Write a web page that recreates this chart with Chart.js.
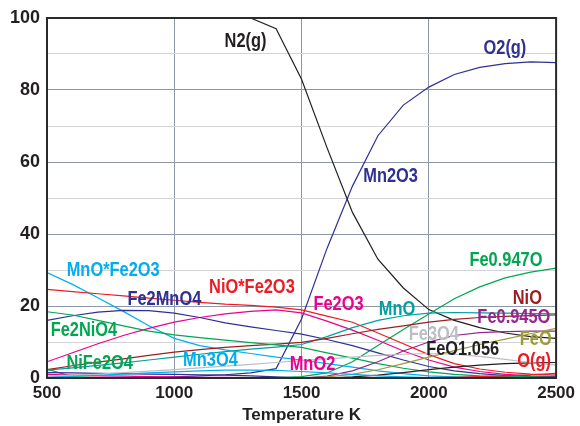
<!DOCTYPE html>
<html>
<head>
<meta charset="utf-8">
<script src="https://cdn.jsdelivr.net/npm/chart.js@4.4.1/dist/chart.umd.min.js"></script>
<style>
  html, body { margin: 0; padding: 0; background: #ffffff; }
  #wrap { width: 580px; height: 426px; }
</style>
</head>
<body>
<div id="wrap"><canvas id="c" width="580" height="426"></canvas></div>
<script>
// ---- data (temperature K vs amount %) ----
const temps = [500,600,700,800,900,1000,1100,1200,1300,1400,1500,1600,1700,1800,1900,2000,2100,2200,2300,2400,2500];

const N2g      = [100,100,100,100,100,100,100,100,100,97,83,64,46,33,25,19,16,14,12.5,11.5,11];
const O2g      = [0,0,0,0,0,0.3,0.6,0.9,1.4,2.6,16.4,36,53.3,67.3,75.8,80.8,84.3,86.3,87.3,87.8,87.6];
const Mn2O3    = [1.5,1.4,1.3,1.2,1.1,1,0.9,0.8,0.6,0.3,0,0,0,0,0,0,0,0,0,0,0];
const MnOFe2O3 = [29.3,26,22.3,18.5,14.5,11,9,7.8,6.8,5.8,5,4,3,2,1.2,0.6,0.3,0.15,0.1,0.1,0.1];
const NiOFe2O3 = [24.6,24,23.4,22.8,22.2,21.6,21,20.5,20.2,19.7,18.9,17.2,15.5,12.5,9.5,6.5,4,2.5,1.6,1.1,0.8];
const Fe2MnO4  = [16,17.3,18.3,18.8,18.7,18,16.8,15.3,14.2,13.2,12.2,10.7,9,7,5,3.2,2,1.2,0.7,0.4,0.3];
const Fe2NiO4  = [18.4,17.5,16,14.5,13,12,11.2,10.5,9.8,9.2,8.5,7,5.5,4,2.7,1.7,1,0.6,0.4,0.3,0.2];
const NiFe2O4  = [2.5,0.4,0.1,0,0,0,0,0,0,0,0,0,0,0,0,0,0,0,0,0,0];
const Mn3O4    = [0.3,0.5,0.8,1.1,1.4,1.7,2,2.2,2.2,2.1,1.8,1.4,1,0.6,0.3,0.1,0,0,0,0,0];
const MnO2     = [1,0.8,0.6,0.5,0.4,0.3,0.2,0.2,0.1,0.1,0,0,0,0,0,0,0,0,0,0,0];
const Fe2O3    = [4.5,7,9.5,11.8,13.8,15.5,16.8,17.8,18.5,18.9,18.1,15.8,13.3,10.5,7.5,5,3,1.8,1,0.6,0.4];
const MnO      = [2.2,2.8,3.5,4.2,5,5.8,6.6,7.3,8,8.6,9.3,11.5,14,16,17.3,18,18.2,18.1,18,17.9,17.8];
const Fe0947O  = [0,0,0,0,0,0,0,0,0,0.1,0.4,1.4,4.5,9,13.5,17.8,22,25.3,27.8,29.4,30.5];
const NiO      = [2.3,3.4,4.4,5.3,6.3,7.2,7.9,8.5,9,9.4,9.9,11,12.3,13.5,14.5,15.5,16.3,16.8,17.1,17.3,17.5];
const Fe0945O  = [0,0,0,0,0,0,0,0,0,0,0,0.5,2,4.5,7.5,10,11.8,12.6,12.9,13,13];
const Fe3O4    = [0.5,0.8,1.1,1.5,1.9,2.3,2.8,3.3,3.8,4.3,4.8,5.3,5.8,6.3,6.6,6.8,6.6,6,5.2,4.3,3.6];
const FeO      = [0,0,0,0,0,0,0,0,0,0,0,0.3,1,2.3,4,5.8,7.6,9.3,10.8,12.3,13.8];
const FeO1056  = [0,0,0,0,0,0,0,0,0,0,0,0,0.3,0.8,1.5,2.3,3,3.6,4,4.2,4.3];
const Og       = [0,0,0,0,0,0,0,0,0,0,0,0,0,0,0,0.1,0.2,0.4,0.6,0.9,1.3];

const xTicks = [500,1000,1500,2000,2500];
const yTicks = [0,20,40,60,80,100];

// ---- styles ----
const C = {
  black:'#231f20', navy:'#2e3192', cyan:'#00aeef', red:'#ed1c24', magenta:'#ec008c',
  green:'#00a651', teal:'#00a0a0', brown:'#9e1f23', purple:'#92278f', gray:'#bcbec4', olive:'#9c9a3a'
};

const seriesList = [
  ['Fe3O4', Fe3O4, C.gray],
  ['Mn3O4', Mn3O4, C.cyan],
  ['MnO2', MnO2, C.magenta],
  ['Mn2O3', Mn2O3, C.navy],
  ['NiFe2O4', NiFe2O4, C.green],
  ['FeO1.056', FeO1056, C.black],
  ['O(g)', Og, C.red],
  ['FeO', FeO, C.olive],
  ['Fe0.945O', Fe0945O, C.purple],
  ['Fe2NiO4', Fe2NiO4, C.green],
  ['NiO', NiO, C.brown],
  ['MnO', MnO, C.teal],
  ['Fe2MnO4', Fe2MnO4, C.navy],
  ['Fe2O3', Fe2O3, C.magenta],
  ['NiO*Fe2O3', NiOFe2O3, C.red],
  ['MnO*Fe2O3', MnOFe2O3, C.cyan],
  ['Fe0.947O', Fe0947O, C.green],
  ['N2(g)', N2g, C.black],
  ['O2(g)', O2g, C.navy]
];

// label annotations: [text, T, value, colour]
const annotations = [
  ['N2(g)', 1280, 93.5, C.black],
  ['O2(g)', 2299, 91.6, C.navy],
  ['Mn2O3', 1850, 55.9, C.navy],
  ['MnO*Fe2O3', 760, 30, C.cyan],
  ['NiO*Fe2O3', 1305, 25.1, C.red],
  ['Fe2MnO4', 961, 21.8, C.navy],
  ['Fe2NiO4', 645, 13.2, C.green],
  ['NiFe2O4', 707, 3.9, C.green],
  ['Mn3O4', 1142, 4.9, C.cyan],
  ['MnO2', 1543, 3.75, C.magenta],
  ['Fe2O3', 1645, 20.4, C.magenta],
  ['MnO', 1875, 18.9, C.teal],
  ['Fe0.947O', 2303, 32.6, C.green],
  ['NiO', 2387, 22, C.brown],
  ['Fe0.945O', 2334, 16.8, C.purple],
  ['Fe3O4', 2020, 12.2, C.gray],
  ['FeO', 2420, 10.7, C.olive],
  ['FeO1.056', 2133, 7.9, C.black],
  ['O(g)', 2414, 4.6, C.red]
];

const FONT = "'Liberation Sans', Arial, Helvetica, sans-serif";

const datasets = seriesList.map(([name, vals, col]) => ({
  label: name,
  data: temps.map((t, i) => ({x: t, y: vals[i]})),
  borderColor: col,
  backgroundColor: col,
  borderWidth: 1.2,
  pointRadius: 0,
  tension: 0,
  fill: false
}));

const labelPlugin = {
  id: 'labels',
  afterDatasetsDraw(chart) {
    const {ctx, chartArea, scales} = chart;
    ctx.save();
    // frame
    ctx.strokeStyle = '#2a2a2a';
    ctx.lineWidth = 2;
    ctx.strokeRect(chartArea.left, chartArea.top, chartArea.right - chartArea.left, chartArea.bottom - chartArea.top);
    // annotations (condensed look)
    ctx.font = "bold 20px " + FONT;
    ctx.textAlign = 'center';
    ctx.textBaseline = 'middle';
    annotations.forEach(([txt, t, v, col]) => {
      ctx.save();
      ctx.translate(scales.x.getPixelForValue(t), scales.y.getPixelForValue(v));
      ctx.scale(0.82, 1);
      ctx.fillStyle = col;
      ctx.fillText(txt, 0, 0);
      ctx.restore();
    });
    ctx.restore();
  }
};

new Chart(document.getElementById('c'), {
  type: 'line',
  data: { datasets },
  options: {
    responsive: false,
    animation: false,
    layout: { padding: { top: 18, right: 21, left: 0, bottom: 0 } },
    plugins: { legend: { display: false }, tooltip: { enabled: false } },
    scales: {
      x: {
        type: 'linear', min: xTicks[0], max: xTicks[xTicks.length - 1],
        afterBuildTicks(s) { s.ticks = xTicks.map(v => ({value: v})); },
        ticks: { padding: 5, color: C.black, maxRotation: 0, autoSkip: false,
                 callback: v => String(v),
                 font: { family: FONT, size: 17, weight: 'bold' } },
        grid: { color: '#8e97a5', lineWidth: 1, drawTicks: false },
        border: { display: false },
        title: { display: true, text: 'Temperature K', color: C.black,
                 font: { family: FONT, size: 17, weight: 'bold' }, padding: { top: 0, bottom: 0 } },
        afterFit(s) { s.height = 48; }
      },
      y: {
        min: 0, max: 100,
        ticks: { stepSize: 10, padding: 7, color: C.black,
                 callback: v => yTicks.includes(v) ? String(v) : '',
                 font: { family: FONT, size: 18, weight: 'bold' } },
        grid: { color: c => (c.tick && c.tick.value % 20 === 0) ? '#8e97a5' : '#d2d4d8', lineWidth: 1, drawTicks: false },
        border: { display: false },
        afterFit(s) { s.width = 47; }
      }
    }
  },
  plugins: [labelPlugin]
});
</script>
</body>
</html>
